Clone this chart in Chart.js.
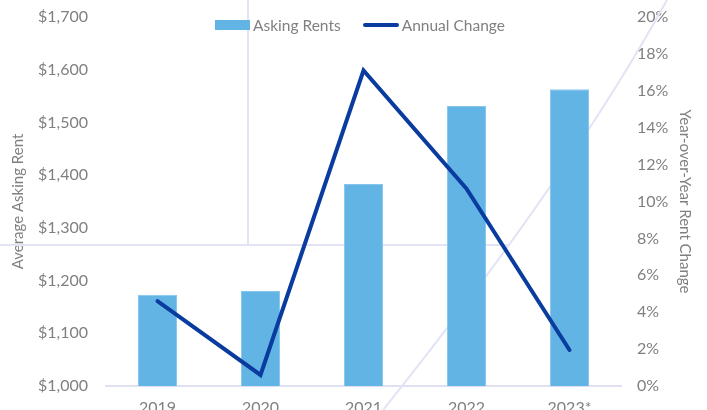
<!DOCTYPE html>
<html>
<head>
<meta charset="utf-8">
<script src="https://cdn.jsdelivr.net/npm/chart.js@4.4.1/dist/chart.umd.min.js"></script>
<style>
  html, body { margin: 0; padding: 0; background: #fff; }
  #wrap { position: relative; width: 707px; height: 410px; overflow: hidden; }
  #legend {
    position: absolute; top: 16px; left: 215px;
    display: flex; align-items: center;
    font-family: Lato, "Open Sans", sans-serif; font-size: 15.5px; color: #808080;
  }
  .swBar { width: 35px; height: 10px; background: #62b4e5; margin-right: 3px; }
  .swLine { width: 36px; height: 4px; border-radius: 2px; background: #0a3c9f; margin: 0 3px 0 22px; }
</style>
</head>
<body>
<div id="wrap">
  <canvas id="chart" width="707" height="410"></canvas>
  <div id="legend">
    <div class="swBar"></div><span>Asking Rents</span>
    <div class="swLine"></div><span>Annual Change</span>
  </div>
</div>
<script>
// ---------------- DATA ----------------
const years = ["2019", "2020", "2021", "2022", "2023*"];
const askingRents = [1173, 1180, 1383, 1531, 1563];
const annualChange = [4.6, 0.6, 17.1, 10.7, 1.95];

const rentTicks = [1000, 1100, 1200, 1300, 1400, 1500, 1600, 1700];
const changeTicks = [0, 2, 4, 6, 8, 10, 12, 14, 16, 18, 20];

const tickFont = { family: "Lato, 'Open Sans', sans-serif", size: 16 };
const titleFont = { family: "Lato, 'Open Sans', sans-serif", size: 15 };
const gray = "#808080";

// faint background decoration lines
const decoPlugin = {
  id: "deco",
  beforeDatasetsDraw(chart) {
    const c = chart.ctx;
    c.save();
    c.strokeStyle = "#e2e3f5";
    c.lineWidth = 2;
    c.beginPath();
    c.moveTo(248, 0);
    c.lineTo(248, 245);
    c.moveTo(0, 245);
    c.lineTo(508, 245);
    c.moveTo(383, 410);
    c.quadraticCurveTo(570, 176, 667, 0);
    c.stroke();
    c.restore();
  }
};

function fitVertical(width) {
  return s => {
    s.width = width;
    s.paddingTop = 0;
    s.paddingBottom = 0;
  };
}

const ctx = document.getElementById("chart").getContext("2d");

new Chart(ctx, {
  data: {
    labels: years,
    datasets: [
      {
        type: "line",
        label: "Annual Change",
        data: annualChange,
        yAxisID: "y1",
        borderColor: "#0a3c9f",
        borderWidth: 4,
        borderCapStyle: "round",
        borderJoinStyle: "miter",
        pointRadius: 0,
        tension: 0,
        order: 1
      },
      {
        type: "bar",
        label: "Asking Rents",
        data: askingRents,
        yAxisID: "y",
        backgroundColor: "#62b4e5",
        borderColor: "#86c6ec",
        borderWidth: 1,
        categoryPercentage: 1,
        barPercentage: 0.38,
        order: 2
      }
    ]
  },
  options: {
    responsive: false,
    animation: false,
    layout: { padding: { top: 17, left: 0, right: 0, bottom: 0 } },
    plugins: {
      legend: { display: false },
      tooltip: { enabled: false }
    },
    scales: {
      x: {
        grid: { display: false, drawTicks: false },
        border: { display: true, color: "#dfe1f2", width: 2 },
        ticks: { color: gray, font: tickFont, padding: 12, maxRotation: 0 },
        afterFit: s => {
          s.height = 24;
          s.paddingLeft = 0;
          s.paddingRight = 0;
        }
      },
      y: {
        position: "left",
        min: 1000,
        max: 1700,
        afterBuildTicks: s => { s.ticks = rentTicks.map(v => ({ value: v })); },
        grid: { display: false, drawTicks: false },
        border: { display: false },
        ticks: {
          color: gray, font: tickFont, padding: 18,
          callback: v => "$" + v.toLocaleString("en-US")
        },
        title: { display: true, text: "Average Asking Rent", color: gray, font: titleFont, padding: { top: 9, bottom: 0 } },
        afterFit: fitVertical(106)
      },
      y1: {
        position: "right",
        min: 0,
        max: 20,
        afterBuildTicks: s => { s.ticks = changeTicks.map(v => ({ value: v })); },
        grid: { display: false, drawTicks: false },
        border: { display: false },
        ticks: { color: gray, font: tickFont, padding: 16, callback: v => v + "%" },
        title: { display: true, text: "Year-over-Year Rent Change", color: gray, font: titleFont, padding: { top: 13, bottom: 0 } },
        afterFit: fitVertical(86)
      }
    }
  },
  plugins: [decoPlugin]
});
</script>
</body>
</html>
